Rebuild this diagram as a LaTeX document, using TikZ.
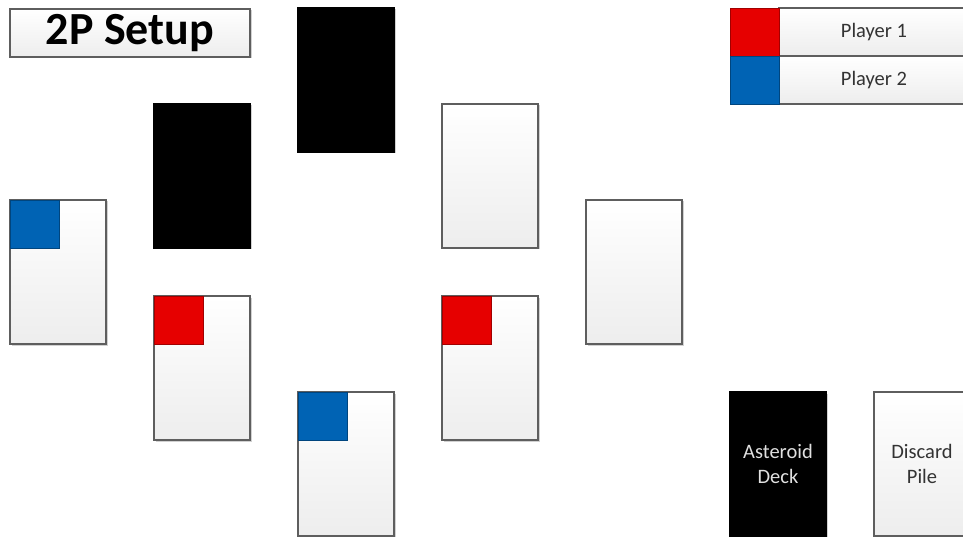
\documentclass[tikz,border=0pt]{standalone}
\usepackage{fontspec}
\setmainfont{Carlito}
\usetikzlibrary{shadows}
\definecolor{pred}{HTML}{E60000}
\definecolor{pblue}{HTML}{0063B4}
\definecolor{edgegray}{HTML}{5E5E5E}
\definecolor{txtgray}{HTML}{333333}
\tikzset{
  cardbase/.style={rectangle, anchor=north west, inner sep=0pt, outer sep=0pt,
    minimum width=96pt, minimum height=144pt, line width=1.4pt,
    drop shadow={shadow xshift=1.5pt, shadow yshift=-1.5pt, opacity=0.18, fill=black}},
  whitecard/.style={cardbase, draw=edgegray, top color=white, bottom color=black!7},
  blackcard/.style={cardbase, fill=black, draw=black},
  marker/.style={rectangle, anchor=north west, inner sep=0pt, outer sep=0pt,
    minimum width=49pt, minimum height=48pt, line width=0.8pt},
  redmark/.style={marker, fill=pred, draw=pred!70!black},
  bluemark/.style={marker, fill=pblue, draw=pblue!70!black},
  labelbox/.style={rectangle, anchor=north west, inner sep=0pt, outer sep=0pt,
    line width=1.4pt, draw=edgegray, top color=white, bottom color=black!7,
    drop shadow={shadow xshift=1.5pt, shadow yshift=-1.5pt, opacity=0.18, fill=black}},
  cardtext/.style={font=\fontsize{20.5}{25}\selectfont, align=center}
}
\begin{document}
\begin{tikzpicture}[x=1pt,y=-1pt]
\useasboundingbox (0,0) rectangle (963,537);
\fill[white] (0,0) rectangle (963,537);
% title
\node[labelbox, minimum width=240pt, minimum height=48pt] (title) at (10,9) {};
\node[font=\bfseries\fontsize{46}{46}\selectfont, text=black] (titletext) at (title.center) {2P Setup};
% cards
\node[blackcard] (b1) at (298,8) {};
\node[blackcard] (b2) at (154,104) {};
\node[whitecard] (w1) at (442,104) {};
\node[whitecard] (w2) at (10,200) {};
\node[whitecard] (w3) at (586,200) {};
\node[whitecard] (w4) at (154,296) {};
\node[whitecard] (w5) at (442,296) {};
\node[whitecard] (w6) at (298,392) {};
% markers
\node[bluemark] (m2) at (w2.north west) {};
\node[redmark] (m4) at (w4.north west) {};
\node[redmark] (m5) at (w5.north west) {};
\node[bluemark] (m6) at (w6.north west) {};
% legend
\node[labelbox, minimum width=192pt, minimum height=48pt] (p1) at (779,8) {};
\node[labelbox, minimum width=192pt, minimum height=48pt] (p2) at (779,56) {};
\node[redmark] (l1) at (730,8) {};
\node[bluemark] (l2) at (730,56) {};
\node[cardtext, text=txtgray] (p1t) at (874,32) {Player 1};
\node[cardtext, text=txtgray] (p2t) at (874,80) {Player 2};
% decks
\node[blackcard] (deck) at (730,392) {};
\node[cardtext, text=black!12] (deckt) at (deck.center) {Asteroid\\Deck};
\node[whitecard] (disc) at (874,392) {};
\node[cardtext, text=txtgray] (disct) at (disc.center) {Discard\\Pile};
\end{tikzpicture}
\end{document}
